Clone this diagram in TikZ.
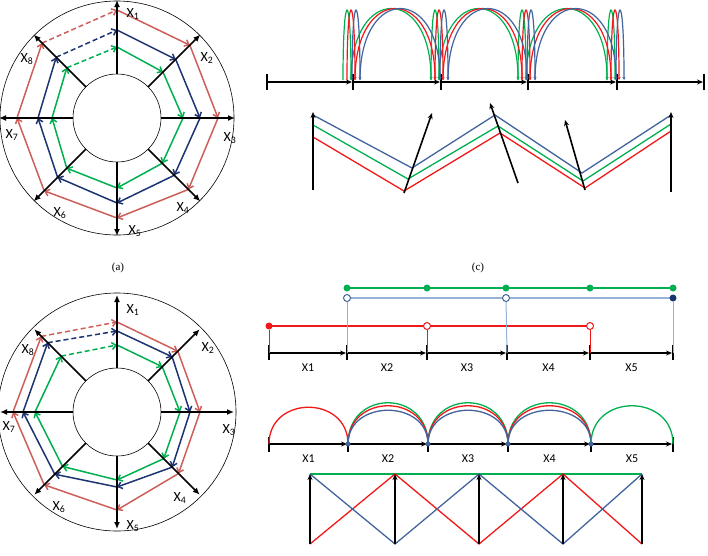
\documentclass[tikz,border=0pt]{standalone}
\usepackage{fontspec}
\setmainfont{Liberation Serif}
\newfontfamily\calib{Carlito}
\usetikzlibrary{arrows.meta,calc}

\definecolor{salmon}{HTML}{CD5F5B}
\definecolor{navy}{HTML}{1C3472}
\definecolor{grn}{HTML}{00B050}
\definecolor{rd}{HTML}{F01818}
\definecolor{stblue}{HTML}{41649E}
\definecolor{ltblue}{HTML}{95B3D7}

\newcommand{\xsub}[1]{X\textsubscript{#1}}

\begin{document}
\begin{tikzpicture}[x=1pt, y=-1pt,
    ring/.style={line width=0.6pt},
    axisarr/.style={line width=1.5pt, -{Latex[length=7pt,width=6pt]}},
    polyarr/.style={line width=1.5pt, -{Straight Barb[length=4pt,width=7pt]}},
    dashseg/.style={dash pattern=on 5pt off 3pt},
    wheellbl/.style={font=\calib\fontsize{14}{16}\selectfont, inner sep=1pt},
    axislbl/.style={font=\calib\fontsize{12}{14}\selectfont, inner sep=1pt},
    caplbl/.style={font=\fontsize{11}{13}\selectfont},
    seg/.style={line width=1.3pt, -{Stealth[length=6pt,width=5pt]}, shorten >=1pt},
    tickmark/.style={line width=1.3pt},
    hop/.style={line width=1.2pt, -{Stealth[length=3pt,width=3pt]}},
    arch/.style={line width=1.3pt},
    zig/.style={line width=1.3pt},
    uparr/.style={line width=1.6pt, -{Stealth[length=6pt,width=5pt]}},
    dot/.style={circle, inner sep=0pt, minimum size=7pt},
    opendot/.style={circle, inner sep=0pt, minimum size=7pt, fill=white, line width=1pt}
]
\useasboundingbox (0,0) rectangle (708,555);

% (a) wheel
\begin{scope}[shift={(117,118)}]
  \draw[ring] (0,0) circle[radius=117];
  \draw[ring] (0,0) circle[radius=44];
  \foreach \r [count=\k] in {108,103,101,101,100,103,100,106}
    \coordinate (ar\k) at ({-135+45*\k}:\r);
  \foreach \r [count=\k] in {88,83,83,81,85,84,79,86}
    \coordinate (ab\k) at ({-135+45*\k}:\r);
  \foreach \r [count=\k] in {71,65,66,64,70,71,65,71}
    \coordinate (ag\k) at ({-135+45*\k}:\r);
  \foreach \k/\n in {1/2,2/3,3/4,4/5,5/6,6/7,7/8} {
    \draw[polyarr, salmon] (ar\k) -- (ar\n);
    \draw[polyarr, navy] (ab\k) -- (ab\n);
    \draw[polyarr, grn] (ag\k) -- (ag\n);
  }
  \draw[polyarr, salmon, dashseg] (ar8) -- (ar1);
  \draw[polyarr, navy, dashseg] (ab8) -- (ab1);
  \draw[polyarr, grn, dashseg] (ag8) -- (ag1);
  \foreach \k in {1,...,8} {
    \coordinate (ain\k) at ({-135+45*\k}:44);
    \coordinate (aout\k) at ({-135+45*\k}:118);
    \draw[axisarr] (ain\k) -- (aout\k);
  }
  \foreach \k/\lx/\ly in {1/16/-104, 2/90/-60, 3/113/20, 4/66/90,
                          5/18/113, 6/-57/95, 7/-105/17, 8/-90/-59}
    \node[wheellbl] (alab\k) at (\lx,\ly) {\xsub{\k}};
\end{scope}

% (b) wheel
\begin{scope}[shift={(117,412)}]
  \draw[ring] (0,0) circle[radius=119];
  \draw[ring] (0,0) circle[radius=44];
  \foreach \r [count=\k] in {90,86,83,87,98,103,104,107}
    \coordinate (br\k) at ({-135+45*\k}:\r);
  \foreach \r [count=\k] in {81,78,73,78,75,88,94,98}
    \coordinate (bb\k) at ({-135+45*\k}:\r);
  \foreach \r [count=\k] in {67,64,63,66,68,77,82,79}
    \coordinate (bg\k) at ({-135+45*\k}:\r);
  \foreach \k/\n in {1/2,2/3,3/4,4/5,5/6,6/7,7/8} {
    \draw[polyarr, salmon] (br\k) -- (br\n);
    \draw[polyarr, navy] (bb\k) -- (bb\n);
    \draw[polyarr, grn] (bg\k) -- (bg\n);
  }
  \draw[polyarr, salmon, dashseg] (br8) -- (br1);
  \draw[polyarr, navy, dashseg] (bb8) -- (bb1);
  \draw[polyarr, grn, dashseg] (bg8) -- (bg1);
  \foreach \k in {1,...,8} {
    \coordinate (bin\k) at ({-135+45*\k}:44);
    \coordinate (bout\k) at ({-135+45*\k}:117);
    \draw[axisarr] (bin\k) -- (bout\k);
  }
  \foreach \k/\lx/\ly in {1/16/-102, 2/91/-64, 3/112/18, 4/63/86,
                          5/16/114, 6/-58/95, 7/-108/15, 8/-89/-62}
    \node[wheellbl] (blab\k) at (\lx,\ly) {\xsub{\k}};
\end{scope}

\node[caplbl] (capa) at (118,268) {(a)};
\node[caplbl] (capc) at (478,268) {(c)};

% (c) hops on the line
\foreach \x [count=\i] in {267,353,441,528,617,704} {
  \coordinate (ct\i) at (\x,82);
  \draw[tickmark] (\x,74) -- (\x,90);
}
\foreach \i/\j in {1/2,2/3,3/4,4/5,5/6}
  \draw[seg] (ct\i) -- (ct\j);
\foreach \col/\o in {grn/0, rd/4, stblue/9} {
  \foreach \t/\u in {353/441, 441/528, 528/617} {
    \draw[hop, \col] (\t-10+\o,80) .. controls +(0,-93) and +(0,-93) .. (\t-2+\o,80);
    \draw[hop, \col] (\t-2+\o,80) .. controls +(0,-95) and +(0,-95) .. (\u-10+\o,80);
  }
  \draw[hop, \col] (607+\o,80) .. controls +(0,-93) and +(0,-93) .. (615+\o,80);
}

% (c) zigzag
\draw[zig, stblue] (313,115) -- (412,168) -- (495,115) -- (582,173) -- (671,115);
\draw[zig, grn] (313,125) -- (408,179) -- (498,126) -- (583,181) -- (671,124);
\draw[zig, rd] (313,137) -- (404,191) -- (500,133) -- (585,188) -- (671,131);
\foreach \fx/\fy/\hx/\hy [count=\i] in {313/190/313/112, 404/193/432/113,
                                       518/183/490/103, 585/190/565/120,
                                       671/192/671/112} {
  \coordinate (zf\i) at (\fx,\fy);
  \coordinate (zh\i) at (\hx,\hy);
  \draw[uparr] (zf\i) -- (zh\i);
}

% timeline
\foreach \x [count=\i] in {269,347,427,507,590,673} {
  \coordinate (bt\i) at (\x,353);
  \draw[tickmark] (\x,345) -- (\x,360);
}
\foreach \i/\j [count=\k] in {1/2,2/3,3/4,4/5,5/6} {
  \draw[seg] (bt\i) -- (bt\j);
  \node[axislbl] (tl\k) at ($(bt\i)!0.5!(bt\j)+(0,15)$) {X\k};
}
\draw[grn, line width=1.5pt] (347,288) -- (673,288);
\draw[ltblue, line width=1.5pt] (347,298) -- (673,298);
\draw[rd, line width=1.5pt] (269,326) -- (590,326);
\foreach \x [count=\i] in {347,427,506,590,673}
  \node[dot, fill=grn] (gd\i) at (\x,288) {};
\node[opendot, draw=stblue] (bo1) at (347,298) {};
\node[opendot, draw=stblue] (bo2) at (506,298) {};
\node[dot, fill=navy] (bo3) at (673,298) {};
\node[dot, fill=rd] (ro1) at (269,326) {};
\node[opendot, draw=rd] (ro2) at (427,326) {};
\node[opendot, draw=rd] (ro3) at (590,326) {};
\draw[ltblue, line width=1pt] (bo1) -- (bt2);
\draw[ltblue, line width=1pt] (bo2) -- (bt4);
\draw[ltblue, line width=1pt] (bo3) -- (bt6);
\draw[rd, line width=0.8pt] (ro1) -- (bt1);
\draw[rd, line width=0.8pt] (ro2) -- (bt3);
\draw[rd, line width=0.8pt] (ro3) -- (bt5);

% arches
\foreach \x [count=\i] in {269,348,428,508,591,673} {
  \coordinate (at\i) at (\x,444);
  \draw[tickmark] (\x,437) -- (\x,452);
}
\foreach \i/\j [count=\k] in {1/2,2/3,3/4,4/5,5/6} {
  \draw[seg] (at\i) -- (at\j);
  \node[axislbl] (al\k) at ($(at\i)!0.5!(at\j)+(0,15)$) {X\k};
}
\draw[arch, rd] (at1) .. controls +(0,-49) and +(0,-49) .. (at2);
\foreach \i/\j in {2/3,3/4,4/5} {
  \draw[arch, grn] (at\i) .. controls +(0,-55) and +(0,-55) .. (at\j);
  \draw[arch, rd] (at\i) .. controls +(0,-51) and +(0,-51) .. (at\j);
  \draw[arch, stblue] (at\i) .. controls +(0,-45) and +(0,-45) .. (at\j);
}
\draw[arch, grn] (at5) .. controls +(0,-51) and +(0,-51) .. (at6);
\foreach \i in {2,...,5}
  \node[dot, fill=stblue, minimum size=5pt] (ad\i) at (at\i) {};

% crossing zigzag
\foreach \x [count=\i] in {310,395,479,563,642} {
  \coordinate (zt\i) at (\x,474);
  \coordinate (zb\i) at (\x,544);
}
\draw[grn, line width=1.3pt] (zt1) -- (zt5);
\draw[zig, rd] (zb1) -- (zt2) -- (zb3) -- (zt4) -- (zb5);
\draw[zig, stblue] (zt1) -- (zb2) -- (zt3) -- (zb4) -- (zt5);
\foreach \i in {1,...,5}
  \draw[uparr] (zb\i) -- (zt\i);

\end{tikzpicture}
\end{document}
